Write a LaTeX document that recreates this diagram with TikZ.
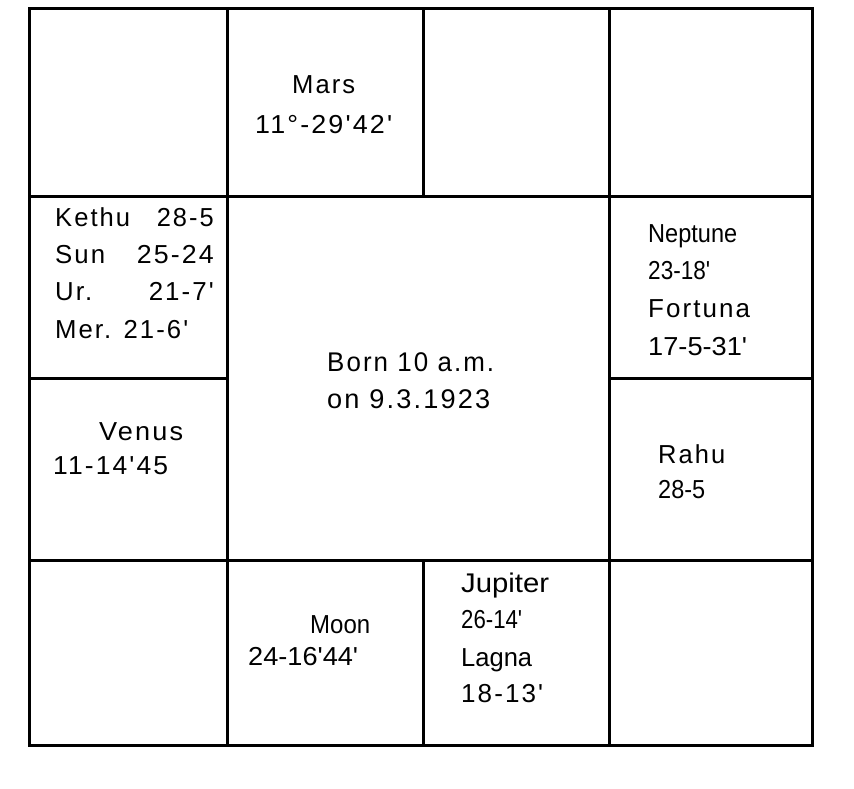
\documentclass[tikz,border=0pt]{standalone}
\usepackage{fontspec}
\usepackage{graphicx}
\setmainfont{Liberation Sans}[Ligatures=TeXOff]
\newfontfamily\spcfont{Liberation Sans}[LetterSpace=8,Ligatures=TeXOff]
\newcommand\tw[2]{\resizebox{#1pt}{\height}{#2}}
\tikzset{
  grid/.style={line width=3pt, line cap=rect},
  txt/.style={anchor=base west, inner sep=0pt, font=\fontsize{26}{30}\selectfont},
  txtr/.style={anchor=base east, inner sep=0pt, font=\fontsize{26}{30}\selectfont},
  spc/.style={font=\fontsize{26}{30}\selectfont\spcfont}
}
\begin{document}
\begin{tikzpicture}[x=1pt,y=-1pt]
\useasboundingbox (0,0) rectangle (854,788);
% grid
\draw[grid] (29,8) rectangle (812,745);
\draw[grid] (227,8) -- (227,745);
\draw[grid] (609,8) -- (609,745);
\draw[grid] (423,8) -- (423,196);
\draw[grid] (423,560) -- (423,745);
\draw[grid] (29,196) -- (812,196);
\draw[grid] (29,560) -- (812,560);
\draw[grid] (29,378) -- (227,378);
\draw[grid] (609,378) -- (812,378);
% Mars
\node[txt,spc] (mars) at (292,93) {\tw{63}{Mars}};
\node[txt,spc] (marsdeg) at (255,133) {\tw{137}{11°-29'42'}};
% left upper
\node[txt,spc] (kethu) at (55,226) {\tw{75}{Kethu}};
\node[txtr,spc] (kethud) at (214,226) {\tw{57}{28-5}};
\node[txt,spc] (sun) at (55,263) {\tw{50}{Sun}};
\node[txtr,spc] (sund) at (214,263) {\tw{77}{25-24}};
\node[txt,spc] (ur) at (55,300) {\tw{37}{Ur.}};
\node[txtr,spc] (urd) at (214,300) {\tw{65}{21-7'}};
\node[txt,spc] (mer) at (55,338) {\tw{133}{Mer. 21-6'}};
% center
\node[txt,spc,font=\fontsize{27}{30}\selectfont\spcfont] (born) at (327,371) {\tw{167}{Born 10 a.m.}};
\node[txt,spc,font=\fontsize{27}{30}\selectfont\spcfont] (on) at (327,408) {\tw{163}{on 9.3.1923}};
% right upper
\node[txt] (nep) at (648,242) {\tw{89}{Neptune}};
\node[txt] (nepd) at (648,279) {\tw{62}{23-18'}};
\node[txt,spc] (fort) at (648,317) {\tw{102}{Fortuna}};
\node[txt] (fortd) at (648,355) {\tw{99}{17-5-31'}};
% right lower
\node[txt,spc] (rahu) at (658,463) {\tw{67}{Rahu}};
\node[txt] (rahud) at (658,498) {\tw{47}{28-5}};
% left lower
\node[txt,spc] (venus) at (99,440) {\tw{84}{Venus}};
\node[txt,spc] (venusd) at (53,474) {\tw{115}{11-14'45}};
% bottom
\node[txt] (moon) at (310,633) {\tw{60}{Moon}};
\node[txt] (moond) at (248,665) {\tw{110}{24-16'44'}};
\node[txt,font=\fontsize{27}{30}\selectfont] (jup) at (461,592) {\tw{88}{Jupiter}};
\node[txt] (jupd) at (461,628) {\tw{61}{26-14'}};
\node[txt] (lagna) at (461,666) {\tw{71}{Lagna}};
\node[txt,spc] (lagnad) at (461,702) {\tw{82}{18-13'}};
\end{tikzpicture}
\end{document}
